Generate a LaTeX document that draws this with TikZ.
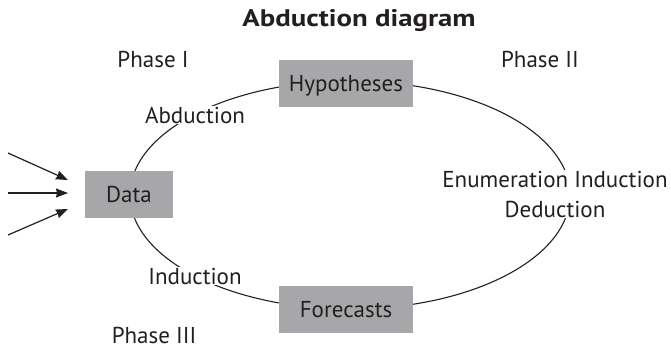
\documentclass[tikz,border=0pt]{standalone}
\usepackage{fontspec}
\setmainfont{PT Sans}
\newfontfamily\headfont[FakeStretch=1.2]{PT Sans Bold}
\usetikzlibrary{arrows.meta}
\definecolor{boxgray}{RGB}{167,167,170}
\definecolor{ink}{RGB}{35,31,32}

\begin{document}
\begin{tikzpicture}[x=1pt,y=-1pt,
  every node/.style={font=\fontsize{23}{30}\selectfont,text=ink},
  stage/.style={fill=boxgray,minimum height=47pt,inner sep=0pt,text height=16pt,text depth=0pt},
  lab/.style={fill=white,inner sep=1pt,anchor=base},
  phase/.style={anchor=base,inner sep=0pt},
  feed/.style={ink,line width=1.2pt,-{Stealth[length=12pt,width=9pt,inset=1pt]}}]
\useasboundingbox (0,0) rectangle (671,349);

\draw[ink,line width=1.1pt] (350,195) ellipse [x radius=220pt,y radius=114pt];

\node[stage,minimum width=134pt] (hyp) at (346,83.5) {Hypotheses};
\node[stage,minimum width=88pt] (data) at (129,194.5) {Data};
\node[stage,minimum width=134pt] (fore) at (346,309.5) {Forecasts};

\node[lab] (abd) at (195,123) {Abduction};
\node[lab] (ind) at (195,284) {Induction};
\node[lab,align=center] (enum) at (555,217) {Enumeration Induction\\Deduction};

\node[phase] (ph1) at (153,67) {Phase I};
\node[phase] (ph2) at (540,67) {Phase II};
\node[phase] (ph3) at (154,343) {Phase III};
\node[phase,font=\fontsize{24}{30}\headfont] (title) at (359,26) {Abduction diagram};

\coordinate (in1) at (8,153);
\coordinate (in2) at (8,193);
\coordinate (in3) at (8,235);
\coordinate (to1) at (68,180);
\coordinate (to2) at (68,193);
\coordinate (to3) at (68,209);
\draw[feed] (in1) -- (to1);
\draw[feed] (in2) -- (to2);
\draw[feed] (in3) -- (to3);
\end{tikzpicture}
\end{document}
